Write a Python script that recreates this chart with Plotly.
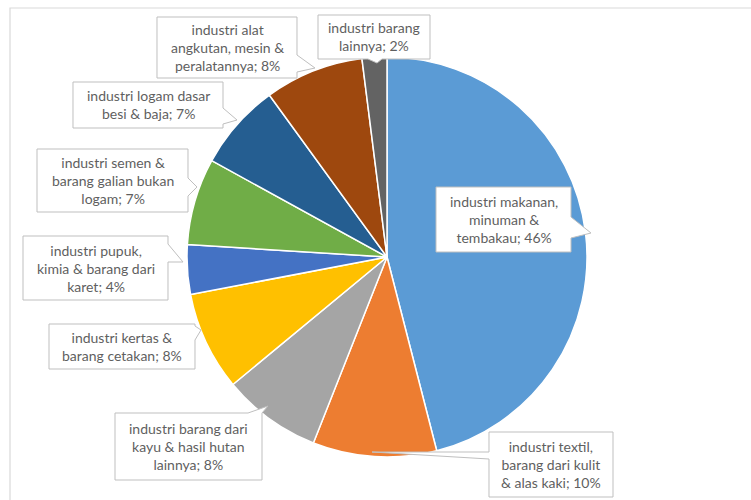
import plotly.graph_objects as go

W, H = 751, 500

# ---- data ----
categories = [
    "industri makanan,<br>minuman &<br>tembakau",
    "industri textil,<br>barang dari kulit<br>& alas kaki",
    "industri barang dari<br>kayu & hasil hutan<br>lainnya",
    "industri kertas &<br>barang cetakan",
    "industri pupuk,<br>kimia & barang dari<br>karet",
    "industri semen &<br>barang galian bukan<br>logam",
    "industri logam dasar<br>besi & baja",
    "industri alat<br>angkutan, mesin &<br>peralatannya",
    "industri barang<br>lainnya",
]
values = [46, 10, 8, 8, 4, 7, 7, 8, 2]
colors = ["#5B9BD5", "#ED7D31", "#A5A5A5", "#FFC000", "#4472C4",
          "#70AD47", "#255E91", "#9E480E", "#636363"]

# ---- label box layout (pixel boxes + pointer) ----
# (left, top, right, bottom), pointer side, base points, tip
callouts = [
    ((436, 187, 571, 252), "right", (217, 238), (591, 233)),
    ((489, 432, 613, 497), "left", (452, 459), (372, 452)),
    ((115, 413, 262, 480), "top", (262, 248), (268, 406)),
    ((49, 324, 195, 369), "right", (326, 340), (201, 330)),
    ((23, 236, 168, 300), "right", (244, 262), (183, 262)),
    ((37, 149, 188, 212), "right", (178, 196), (197, 187)),
    ((73, 82, 223, 128), "right", (108, 124), (237, 120)),
    ((157, 17, 297, 78), "right", (55, 72), (315, 68)),
    ((318, 15, 430, 59), "bottom", (382, 368), (377, 63)),
]

cx, cy, r = 387, 257, 200


def px(x):
    return x / W


def py(y):
    return 1 - y / H


def callout_path(box, side, base, tip):
    l, t, rr, b = box
    pts = [(l, t)]
    if side == "top":
        lo, hi = min(base), max(base)
        pts += [(lo, t), tip, (hi, t)]
    pts.append((rr, t))
    if side == "right":
        pts += [(rr, base[0]), tip, (rr, base[1])]
    pts.append((rr, b))
    if side == "bottom":
        hi, lo = max(base), min(base)
        pts += [(hi, b), tip, (lo, b)]
    pts.append((l, b))
    if side == "left":
        hi, lo = max(base), min(base)
        pts += [(l, hi), tip, (l, lo)]
    return "M " + " L ".join(f"{px(x):.5f},{py(y):.5f}" for x, y in pts) + " Z"


fig = go.Figure(go.Pie(
    labels=categories,
    values=values,
    sort=False,
    direction="clockwise",
    rotation=0,
    marker=dict(colors=colors, line=dict(color="white", width=1.5)),
    textinfo="none",
    hoverinfo="label+percent",
    showlegend=False,
    domain=dict(x=[px(cx - r), px(cx + r)], y=[py(cy + r), py(cy - r)]),
))

shapes = [dict(type="rect", xref="paper", yref="paper",
               x0=px(10), y0=py(8), x1=px(W + 10), y1=py(H + 10),
               line=dict(color="#D9D9D9", width=1.2), fillcolor="rgba(0,0,0,0)",
               layer="below")]
annotations = []
for (box, side, base, tip), cat, v in zip(callouts, categories, values):
    shapes.append(dict(type="path", xref="paper", yref="paper",
                       path=callout_path(box, side, base, tip),
                       fillcolor="white", line=dict(color="#BFBFBF", width=1),
                       layer="above"))
    l, t, rr, b = box
    annotations.append(dict(
        xref="paper", yref="paper", x=px((l + rr) / 2), y=py((t + b) / 2),
        xanchor="center", yanchor="middle", showarrow=False,
        text=f"{cat}; {v}%", align="center",
        font=dict(family="Lato", size=14, color="#5f5f5f"),
    ))

fig.update_layout(
    width=W, height=H, autosize=False,
    margin=dict(l=0, r=0, t=0, b=0),
    paper_bgcolor="white", plot_bgcolor="white",
    shapes=shapes, annotations=annotations,
)

fig.write_html("out.html", config={"displayModeBar": False})
with open("out.html", encoding="utf-8") as f:
    html = f.read()
html = html.replace("<head>", "<head><style>html,body{margin:0;padding:0;overflow:hidden;}</style>", 1)
with open("out.html", "w", encoding="utf-8") as f:
    f.write(html)
